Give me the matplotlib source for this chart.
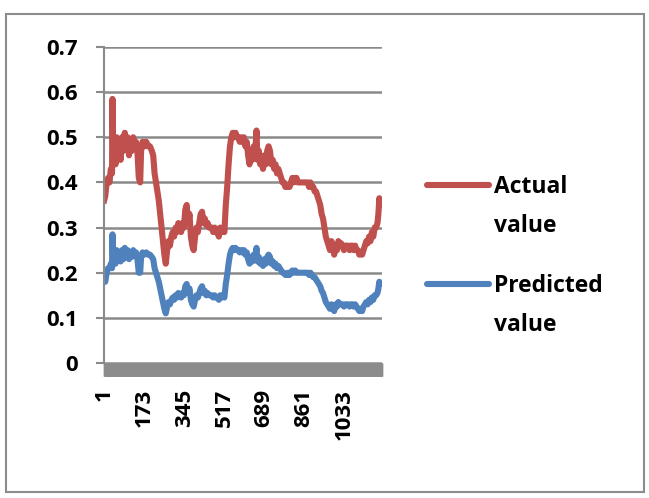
import matplotlib
matplotlib.use("Agg")
import matplotlib.pyplot as plt
from matplotlib.lines import Line2D
from matplotlib.patches import Rectangle
import numpy as np

# category index (1..~1195) where values were read
idx = [1, 6, 12, 18, 24, 30, 35, 37, 40, 45,
       50, 55, 60, 66, 72, 78, 84, 90, 96, 102,
       108, 114, 120, 126, 132, 138, 144, 150, 156, 160,
       166, 174, 182, 190, 198, 206, 212, 218, 224, 230,
       236, 242, 248, 254, 260, 266, 272, 278, 284, 290,
       296, 302, 308, 314, 320, 326, 332, 338, 344, 350,
       356, 362, 368, 374, 380, 386, 392, 398, 404, 410,
       416, 422, 428, 434, 440, 446, 452, 458, 464, 470,
       476, 482, 488, 494, 500, 506, 512, 518, 524, 530,
       536, 542, 548, 554, 560, 566, 572, 578, 584, 590,
       596, 602, 608, 614, 620, 626, 632, 638, 644, 650,
       656, 660, 666, 672, 678, 684, 690, 696, 702, 708,
       714, 720, 726, 732, 738, 744, 750, 756, 762, 768,
       774, 780, 786, 792, 798, 804, 810, 816, 822, 828,
       834, 840, 846, 852, 858, 864, 870, 876, 882, 888,
       894, 900, 906, 912, 918, 924, 930, 936, 942, 948,
       954, 960, 966, 972, 978, 984, 990, 996, 1002, 1008,
       1014, 1020, 1026, 1032, 1038, 1044, 1050, 1056, 1062, 1068,
       1074, 1080, 1086, 1092, 1098, 1104, 1110, 1116, 1122, 1128,
       1134, 1140, 1146, 1152, 1158, 1164, 1170, 1176, 1180, 1184,
       1187]

actual = [.36, .37, .40, .41, .40, .43, .42, .585, .45, .48,
          .44, .50, .46, .49, .45, .50, .47, .51, .48, .50,
          .46, .49, .47, .50, .48, .49, .47, .41, .40, .47,
          .49, .48, .49, .48, .48, .47, .46, .42, .40, .38,
          .36, .33, .30, .27, .24, .22, .25, .27, .26, .28,
          .29, .28, .30, .29, .31, .30, .29, .31, .30, .34,
          .35, .31, .33, .28, .26, .25, .28, .30, .29, .31,
          .33, .335, .31, .32, .305, .31, .30, .30, .30, .29,
          .30, .29, .29, .28, .30, .29, .30, .29, .35, .39,
          .44, .48, .50, .51, .50, .51, .50, .50, .49, .50,
          .49, .50, .48, .49, .46, .44, .47, .45, .48, .46,
          .515, .45, .47, .44, .45, .43, .46, .44, .47, .48,
          .47, .44, .45, .43, .44, .42, .43, .42, .41, .40,
          .40, .39, .39, .39, .39, .40, .41, .40, .41, .41,
          .40, .40, .40, .40, .40, .40, .40, .40, .39, .40,
          .39, .39, .38, .38, .37, .36, .35, .33, .32, .30,
          .28, .27, .26, .25, .27, .26, .24, .26, .25, .27,
          .26, .265, .26, .25, .26, .26, .26, .25, .26, .26,
          .25, .26, .25, .25, .24, .245, .24, .25, .26, .27,
          .265, .28, .27, .29, .28, .30, .30, .31, .33, .365,
          .35]

predicted = [.18, .18, .20, .21, .21, .22, .21, .285, .22, .24,
             .22, .25, .23, .24, .225, .25, .23, .255, .24, .25,
             .23, .245, .235, .25, .24, .245, .23, .20, .20, .235,
             .245, .24, .245, .24, .24, .235, .23, .21, .20, .19,
             .18, .165, .15, .135, .12, .11, .125, .135, .13, .14,
             .145, .14, .15, .145, .155, .15, .145, .155, .15, .17,
             .175, .155, .165, .14, .13, .125, .14, .15, .145, .155,
             .165, .17, .155, .16, .15, .155, .15, .15, .15, .145,
             .15, .145, .145, .14, .15, .145, .15, .145, .175, .195,
             .22, .24, .25, .255, .25, .255, .25, .25, .245, .25,
             .245, .25, .24, .245, .23, .22, .235, .225, .24, .23,
             .255, .225, .235, .22, .225, .215, .23, .22, .235, .24,
             .235, .22, .225, .215, .22, .21, .215, .21, .205, .20,
             .20, .195, .195, .20, .195, .20, .205, .20, .205, .20,
             .20, .20, .20, .20, .20, .20, .20, .20, .195, .20,
             .195, .19, .19, .185, .18, .175, .17, .16, .155, .145,
             .135, .13, .125, .12, .13, .125, .115, .13, .125, .135,
             .13, .13, .13, .125, .13, .13, .13, .125, .13, .13,
             .125, .13, .125, .12, .115, .12, .115, .125, .13, .135,
             .13, .14, .135, .145, .14, .15, .15, .155, .165, .18,
             .175]

n_categories = 1195
xtick_vals = [1, 173, 345, 517, 689, 861, 1033]
ytick_vals = [0, 0.1, 0.2, 0.3, 0.4, 0.5, 0.6, 0.7]

red = '#C0504D'
blue = '#4F81BD'
gridc = '#8A8A8A'
FONT = 'Open Sans'

W, H = 649, 498
fig = plt.figure(figsize=(W / 100, H / 100), dpi=100)

# outer chart border
fig.add_artist(Rectangle((6 / W, 1 - 492 / H), 638 / W, 478 / H, transform=fig.transFigure,
                         fill=False, edgecolor='#8C8C8C', linewidth=1.5))

ax = fig.add_axes([104 / W, 1 - 363 / H, (382 - 104) / W, (363 - 47) / H])
ax.plot(idx, actual, color=red, lw=4.4, solid_joinstyle='round')
ax.plot(idx, predicted, color=blue, lw=4.4, solid_joinstyle='round')

ax.set_xlim(0.5, n_categories + 0.5)
ax.set_ylim(0, 0.7)
ax.set_yticks(ytick_vals)
ax.set_yticklabels(['0' if v == 0 else '%.1f' % v for v in ytick_vals],
                   fontsize=16, fontweight='bold', family=FONT)
ax.grid(axis='y', color=gridc, lw=1.8)
ax.set_axisbelow(True)
ax.tick_params(axis='y', length=6, width=1.5, color=gridc, pad=13)

# every category gets a tick mark -> dense grey band like the Excel axis
ax.set_xticks(np.arange(1, n_categories + 1), minor=True)
ax.tick_params(axis='x', which='minor', length=9.5, width=1.0, color='#8C8C8C')
ax.set_xticks(xtick_vals)
ax.set_xticklabels([str(v) for v in xtick_vals], rotation=90, fontsize=16,
                   fontweight='bold', family=FONT)
ax.tick_params(axis='x', which='major', length=9.5, width=1.0, color='#8C8C8C', pad=9)

for s in ['top', 'right', 'bottom']:
    ax.spines[s].set_visible(False)
ax.spines['left'].set_color(gridc)
ax.spines['left'].set_linewidth(1.5)

# legend, drawn like the Excel one (handle beside first line of the label)
def legend_entry(y_px, color, word):
    fig.add_artist(Line2D([427 / W, 489 / W], [1 - y_px / H, 1 - y_px / H],
                          transform=fig.transFigure, color=color, lw=4.4,
                          solid_capstyle='round'))
    fig.text(494 / W, 1 - (y_px + 2) / H, word, fontsize=16.5, fontweight='bold',
             family=FONT, va='center', ha='left')
    fig.text(494 / W, 1 - (y_px + 41) / H, 'value', fontsize=16.5, fontweight='bold',
             family=FONT, va='center', ha='left')

legend_entry(185, red, 'Actual')
legend_entry(284, blue, 'Predicted')

fig.savefig('out.png', dpi=100)
